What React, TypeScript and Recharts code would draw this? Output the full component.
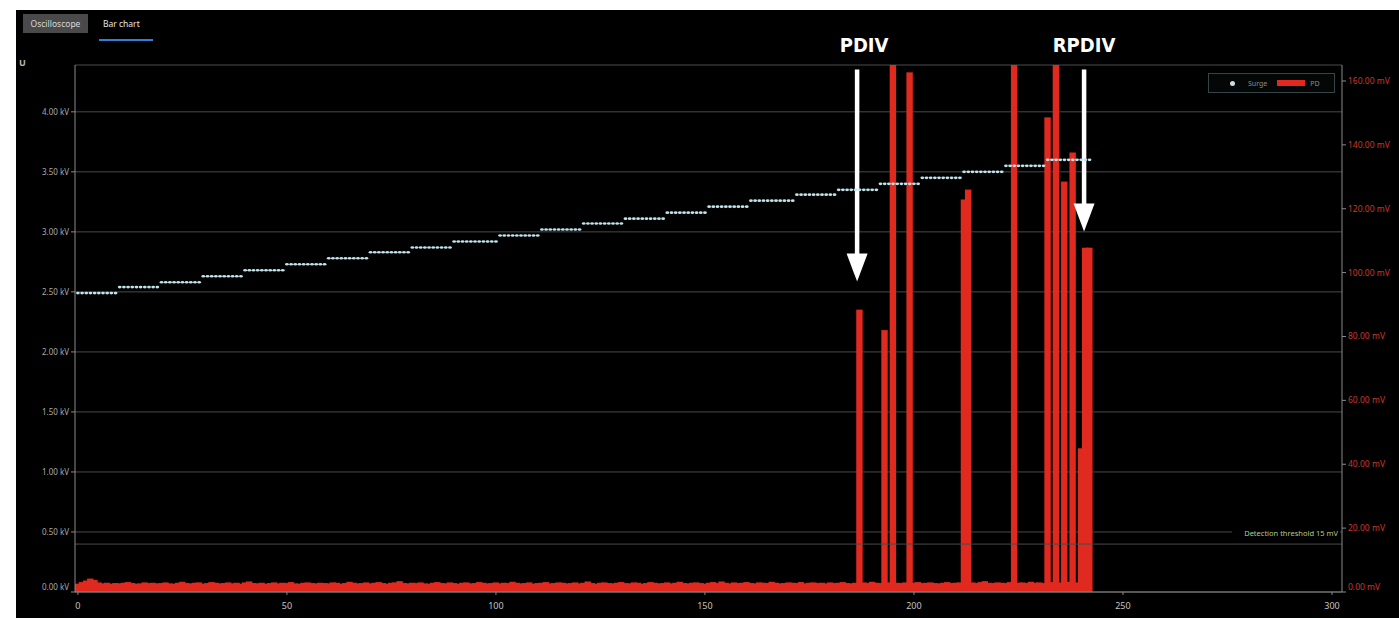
import React from 'react';
import {
  ComposedChart,
  Bar,
  Line,
  XAxis,
  YAxis,
  CartesianGrid,
  ReferenceLine,
  Legend
} from 'recharts';

// Axis ticks
const X_TICKS = [0, 50, 100, 150, 200, 250, 300];
const KV_TICKS = [0, 0.5, 1, 1.5, 2, 2.5, 3, 3.5, 4];
const MV_TICKS = [0, 20, 40, 60, 80, 100, 120, 140, 160];

// Surge voltage steps (kV) and the sample where each step starts
const SURGE_LEVELS = [
  2.49, 2.54, 2.58, 2.63, 2.68, 2.73, 2.78, 2.83, 2.87, 2.92, 2.97, 3.02,
  3.07, 3.11, 3.16, 3.21, 3.26, 3.31, 3.35, 3.40, 3.45, 3.50, 3.55, 3.60
];
const SURGE_STARTS = [
  0, 10, 20, 30, 40, 50, 60, 70, 80, 90, 101, 111,
  121, 131, 141, 151, 161, 172, 182, 192, 202, 212, 222, 232
];

// PD amplitude per sample (mV), samples 0..242
const PD_MV = [
  2.6, 3.1, 3.6, 4.2, 3.8, 3.0, 2.7, 2.9, 2.6, 2.8, 2.7, 2.9, 3.1, 2.8, 2.6, 2.7, 3.0, 2.8, 2.9, 2.7,
  2.8, 3.0, 2.7, 2.6, 2.9, 3.2, 2.8, 2.7, 2.9, 3.0, 2.6, 2.8, 3.1, 2.9, 2.7, 2.8, 3.0, 2.7, 2.9, 2.6,
  3.0, 3.3, 2.8, 2.7, 2.9, 2.6, 2.8, 3.0, 2.7, 2.9, 2.8, 3.1, 2.7, 2.6, 2.9, 3.0, 2.8, 2.7, 2.9, 2.8,
  2.7, 3.0, 2.9, 2.6, 2.8, 3.2, 2.9, 2.7, 2.8, 3.0, 2.7, 2.9, 3.1, 2.8, 2.6, 2.9, 3.0, 3.4, 2.8, 2.7,
  2.9, 2.8, 3.0, 2.7, 2.6, 2.9, 3.1, 2.8, 2.7, 3.0, 2.8, 2.6, 2.9, 3.0, 2.7, 2.8, 3.1, 2.9, 2.7, 2.8,
  3.0, 2.7, 2.9, 2.8, 3.2, 2.9, 2.7, 2.8, 3.0, 2.6, 2.8, 2.9, 3.1, 2.7, 2.8, 3.0, 2.9, 2.7, 2.8, 3.0,
  2.7, 2.9, 3.3, 2.8, 2.6, 2.9, 3.0, 2.8, 2.7, 2.9, 3.1, 2.8, 2.7, 3.0, 2.9, 2.6, 2.8, 3.1, 2.9, 2.7,
  2.8, 3.0, 2.7, 2.9, 3.2, 2.8, 2.7, 2.9, 3.0, 2.8, 2.6, 2.9, 3.1, 2.8, 3.3, 2.9, 2.7, 3.0, 2.8, 2.9,
  3.1, 2.8, 2.7, 3.0, 2.9, 2.8, 3.2, 2.9, 2.7, 2.8, 3.0, 2.9, 2.8, 3.1, 2.7, 2.9, 3.0, 2.8, 2.9, 2.7,
  3.0, 2.8, 2.9, 3.1, 2.8, 2.7, 2.9, 88.4, 3.0, 2.8, 3.2, 2.9, 2.8, 82.0, 3.0, 180, 2.9, 2.8, 3.0, 162.7,
  2.9, 3.1, 2.8, 2.9, 3.0, 2.8, 2.7, 2.9, 3.1, 2.8, 2.9, 3.0, 122.9, 126.0, 3.0, 2.8, 3.1, 3.4, 2.9, 2.8,
  3.0, 2.9, 2.8, 3.1, 180, 2.9, 3.0, 2.8, 3.2, 2.9, 3.0, 2.8, 148.6, 3.1, 180, 3.0, 128.5, 3.2, 137.6, 3.0,
  45.0, 107.8, 107.8
];

const surgeAt = (i: number) => {
  let k = 0;
  SURGE_STARTS.forEach((s, idx) => {
    if (s <= i) k = idx;
  });
  return SURGE_LEVELS[k];
};

const rows = PD_MV.map((pd, i) => ({ i, pd, surge: surgeAt(i) }));

const RED = '#e0291f';
const GRID = '#4a4a4a';
const AXIS = '#8a8a8a';
const FONT = "'Noto Sans', 'Open Sans', sans-serif";

const LeftTick = ({ x, y, payload }: any) => (
  <text
    x={x}
    y={payload.value === 0 ? y - 5 : y}
    dy={3}
    textAnchor="end"
    fill="#a9a9a9"
    fontSize={8}
    fontFamily={FONT}
  >
    {`${payload.value.toFixed(2)} kV`}
  </text>
);

const RightTick = ({ x, y, payload }: any) => (
  <text
    x={x}
    y={payload.value === 0 ? y - 5 : y}
    dy={3}
    textAnchor="start"
    fill="#c8392e"
    fontSize={8.5}
    fontFamily={FONT}
  >
    {`${payload.value.toFixed(2)} mV`}
  </text>
);

// bars are a bit wider than the sample spacing so the noise floor reads as a solid band
const PdBar = (props: any) => {
  const { x, y, width, height, fill } = props;
  if (!height || height <= 0) return null;
  const w = 6.4;
  return <rect x={x + width / 2 - w / 2} y={y} width={w} height={height} fill={fill} />;
};

const SurgeDot = (props: any) => {
  const { cx, cy, index } = props;
  if (cx == null || cy == null) return null;
  return <ellipse key={`s-${index}`} cx={cx} cy={cy} rx={1.9} ry={1.3} fill="#bfe4ec" />;
};

// White annotation arrow with a bold caption above it
const arrowShape = (caption: string, textDx: number) => (props: any) => {
  const { x1, y1, y2 } = props;
  const head = 28;
  return (
    <g>
      <line x1={x1} y1={y1} x2={x1} y2={y2 - head + 2} stroke="#ffffff" strokeWidth={4.5} />
      <polygon
        points={`${x1 - 10.5},${y2 - head} ${x1 + 10.5},${y2 - head} ${x1},${y2}`}
        fill="#ffffff"
      />
      <text
        x={x1 + textDx}
        y={y1 - 17}
        textAnchor="middle"
        fill="#ffffff"
        fontSize={20}
        fontWeight="bold"
        fontFamily="'Liberation Sans Narrow', 'DejaVu Sans Condensed', 'Roboto', sans-serif"
      >
        {caption}
      </text>
    </g>
  );
};

const ThresholdLabel = ({ viewBox }: any) => {
  const right = viewBox.x + viewBox.width - 4;
  return (
    <g>
      <rect x={right - 106} y={viewBox.y - 16} width={108} height={10} fill="#000000" />
      <text
        x={right}
        y={viewBox.y - 8}
        textAnchor="end"
        fill="#b9c98c"
        fontSize={7.5}
        fontFamily={FONT}
      >
        Detection threshold 15 mV
      </text>
    </g>
  );
};

const renderLegend = () => (
  <div
    style={{
      width: 125,
      height: 18,
      border: '1px solid #34454a',
      background: '#050707',
      display: 'flex',
      alignItems: 'center',
      fontFamily: FONT,
      fontSize: 7,
      color: '#8c8c8c'
    }}
  >
    <span
      style={{
        width: 5,
        height: 5,
        borderRadius: '50%',
        background: '#c9dde2',
        marginLeft: 21
      }}
    />
    <span style={{ marginLeft: 13 }}>Surge</span>
    <span style={{ width: 28, height: 6, background: RED, marginLeft: 10 }} />
    <span style={{ marginLeft: 5 }}>PD</span>
  </div>
);

const App: React.FC = () => {
  return (
    <div style={{ position: 'absolute', left: 0, top: 0, width: 1399, height: 618, background: '#ffffff', overflow: 'hidden' }}>
      <div style={{ position: 'absolute', left: 16, top: 10, width: 1383, height: 608, background: '#000000' }} />

      {/* tabs */}
      <div
        style={{
          position: 'absolute', left: 23, top: 14, width: 65, height: 19, background: '#4a4a4a',
          color: '#d8d8d8', fontFamily: FONT, fontSize: 8.5, lineHeight: '19px', textAlign: 'center'
        }}
      >
        Oscilloscope
      </div>
      <div style={{ position: 'absolute', left: 103, top: 14, color: '#e8e8e8', fontFamily: FONT, fontSize: 8.5, lineHeight: '19px' }}>
        Bar chart
      </div>
      <div style={{ position: 'absolute', left: 99, top: 39, width: 54, height: 2, background: '#2f7fd6' }} />
      <div style={{ position: 'absolute', left: 19, top: 56, color: '#b8b8b8', fontFamily: FONT, fontSize: 9, fontWeight: 'bold' }}>
        U
      </div>

      <div style={{ position: 'absolute', left: 0, top: 0 }}>
        <ComposedChart
          width={1399}
          height={618}
          data={rows}
          margin={{ top: 65, right: 0, bottom: 0, left: 15 }}
        >
          <CartesianGrid yAxisId="left" vertical={false} stroke={GRID} />
          <XAxis
            dataKey="i"
            type="number"
            domain={[-0.7, 302.4]}
            ticks={X_TICKS}
            allowDataOverflow
            height={26}
            stroke={AXIS}
            tickSize={3}
            tickMargin={8}
            tick={{ fill: '#c4c4c4', fontSize: 9, fontFamily: FONT }}
          />
          <YAxis
            yAxisId="left"
            domain={[0, 4.39]}
            ticks={KV_TICKS}
            allowDataOverflow
            width={60}
            stroke={AXIS}
            tickSize={4}
            tick={<LeftTick />}
          />
          <YAxis
            yAxisId="right"
            orientation="right"
            domain={[0, 165]}
            ticks={MV_TICKS}
            allowDataOverflow
            width={57}
            stroke={AXIS}
            tickSize={4}
            tick={<RightTick />}
          />
          <ReferenceLine
            yAxisId="right"
            y={15}
            stroke={GRID}
            label={<ThresholdLabel />}
          />
          <Line
            yAxisId="left"
            dataKey="surge"
            stroke="none"
            dot={<SurgeDot />}
            activeDot={false}
            isAnimationActive={false}
          />
          <Bar
            yAxisId="right"
            dataKey="pd"
            barCategoryGap={0}
            fill={RED}
            shape={<PdBar />}
            isAnimationActive={false}
          />
          <ReferenceLine
            yAxisId="right"
            segment={[{ x: 186.4, y: 163.6 }, { x: 186.4, y: 97.2 }]}
            shape={arrowShape('PDIV', 7)}
          />
          <ReferenceLine
            yAxisId="right"
            segment={[{ x: 240.7, y: 163.6 }, { x: 240.7, y: 112.9 }]}
            shape={arrowShape('RPDIV', 0)}
          />
          <Legend
            verticalAlign="middle"
            content={renderLegend}
            wrapperStyle={{ position: 'absolute', left: 1208, top: 73, width: 127, height: 20 }}
          />
        </ComposedChart>
      </div>
    </div>
  );
};

export default App;
